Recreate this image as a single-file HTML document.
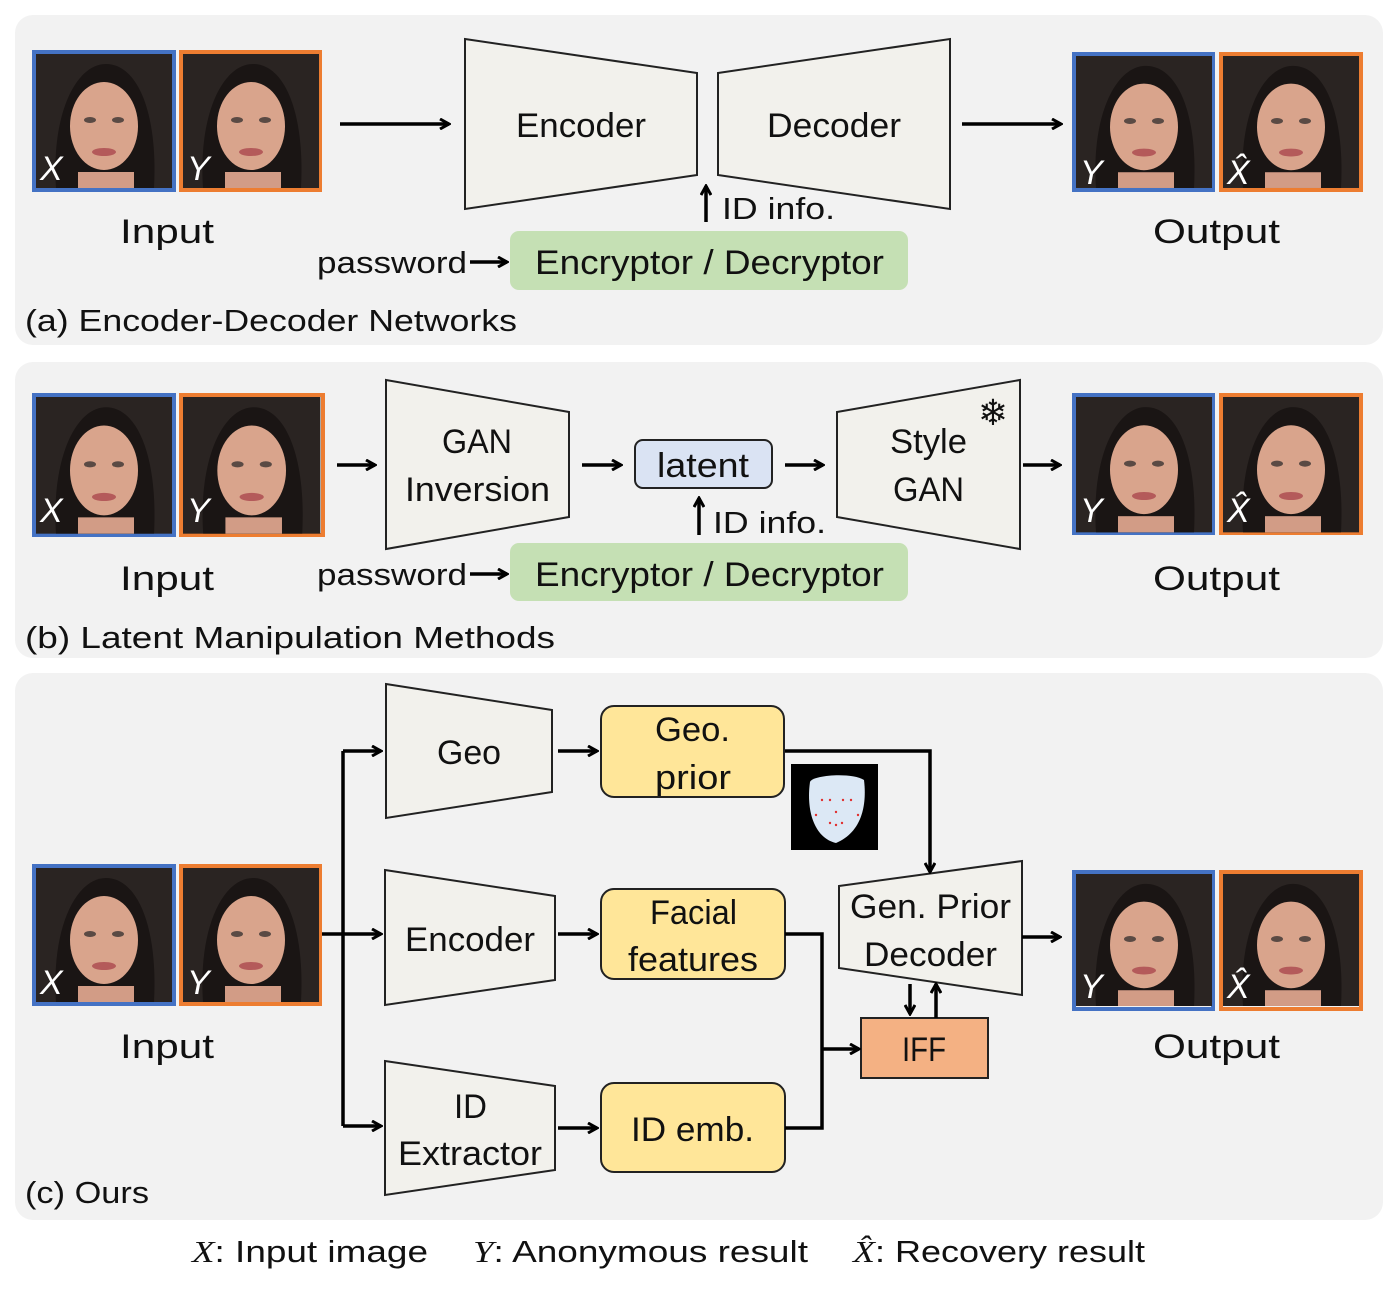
<!DOCTYPE html>
<html><head><meta charset="utf-8"><style>
html,body{margin:0;padding:0;background:#fff}
svg{display:block}
text{font-family:"Liberation Sans","DejaVu Sans",sans-serif;fill:#111}
</style></head><body>
<svg width="1399" height="1290" viewBox="0 0 1399 1290" xmlns="http://www.w3.org/2000/svg">
<defs>
<marker id="ah" markerWidth="12" markerHeight="12" refX="10" refY="6" orient="auto" markerUnits="userSpaceOnUse">
<path d="M1,1 L10,6 L1,11" fill="none" stroke="#000" stroke-width="3"/>
</marker>
<g id="face">
<rect x="0" y="0" width="136" height="134" fill="#2a2422"/>
<path d="M20,134 C15,60 40,10 70,10 C102,10 122,60 118,134 Z" fill="#1a1514"/>
<ellipse cx="68" cy="72" rx="34" ry="44" fill="#d9a48c"/>
<rect x="42" y="118" width="56" height="16" fill="#d29c86"/>
<ellipse cx="54" cy="66" rx="6" ry="3" fill="#5a4a44"/>
<ellipse cx="82" cy="66" rx="6" ry="3" fill="#5a4a44"/>
<ellipse cx="68" cy="98" rx="12" ry="4" fill="#b45a5a"/>
</g>
</defs>
<g fill="#f2f2f2">
<rect x="15" y="15" width="1368" height="330" rx="18"/>
<rect x="15" y="362" width="1368" height="296" rx="18"/>
<rect x="15" y="673" width="1368" height="547" rx="18"/>
</g>
<g stroke-width="4" fill="none">
<rect x="34" y="52" width="140" height="138" stroke="#4472c4"/>
<rect x="181" y="52" width="139" height="138" stroke="#ed7d31"/>
<rect x="1074" y="54" width="139" height="136" stroke="#4472c4"/>
<rect x="1221" y="54" width="140" height="136" stroke="#ed7d31"/>
<rect x="34" y="395" width="140" height="140" stroke="#4472c4"/>
<rect x="181" y="395" width="142" height="140" stroke="#ed7d31"/>
<rect x="1074" y="395" width="139" height="138" stroke="#4472c4"/>
<rect x="1221" y="395" width="140" height="138" stroke="#ed7d31"/>
<rect x="34" y="866" width="140" height="138" stroke="#4472c4"/>
<rect x="181" y="866" width="139" height="138" stroke="#ed7d31"/>
<rect x="1074" y="872" width="139" height="137" stroke="#4472c4"/>
<rect x="1221" y="872" width="140" height="137" stroke="#ed7d31"/>
</g>
<g>
<use href="#face" transform="translate(36,54)"/>
<use href="#face" transform="translate(183,54)"/>
<use href="#face" transform="translate(1076,56) scale(1,0.985)"/>
<use href="#face" transform="translate(1223,56) scale(1,0.985)"/>
<use href="#face" transform="translate(36,397) scale(1,1.02)"/>
<use href="#face" transform="translate(183,397) scale(1.01,1.02)"/>
<use href="#face" transform="translate(1076,397) scale(1,1.01)"/>
<use href="#face" transform="translate(1223,397) scale(1,1.01)"/>
<use href="#face" transform="translate(36,868)"/>
<use href="#face" transform="translate(183,868)"/>
<use href="#face" transform="translate(1076,874) scale(1,0.985)"/>
<use href="#face" transform="translate(1223,874) scale(1,0.985)"/>
</g>
<g font-family="Liberation Serif,serif" font-style="italic" font-size="34">
<text x="40" y="180" style="fill:#fff">X</text><text x="187" y="180" style="fill:#fff">Y</text>
<text x="1080" y="184" style="fill:#fff">Y</text><text x="1227" y="184" style="fill:#fff">X̂</text>
<text x="40" y="522" style="fill:#fff">X</text><text x="187" y="522" style="fill:#fff">Y</text>
<text x="1080" y="522" style="fill:#fff">Y</text><text x="1227" y="522" style="fill:#fff">X̂</text>
<text x="40" y="994" style="fill:#fff">X</text><text x="187" y="994" style="fill:#fff">Y</text>
<text x="1080" y="998" style="fill:#fff">Y</text><text x="1227" y="998" style="fill:#fff">X̂</text>
</g>
<g fill="#f2f1ec" stroke="#222" stroke-width="2">
<polygon points="465,39 697,73 697,175 465,209"/>
<polygon points="718,73 950,39 950,209 718,175"/>
<polygon points="386,380 569,412 569,517 386,549"/>
<polygon points="837,412 1020,380 1020,549 837,517"/>
<polygon points="386,684 552,710 552,792 386,818"/>
<polygon points="385,870 555,896 555,980 385,1005"/>
<polygon points="385,1061 555,1086 555,1170 385,1195"/>
<polygon points="839,886 1022,861 1022,995 839,968"/>
</g>
<rect x="510" y="231" width="398" height="59" rx="9" fill="#c5e0b4"/>
<rect x="510" y="543" width="398" height="58" rx="9" fill="#c5e0b4"/>
<rect x="635" y="440" width="137" height="48" rx="8" fill="#dae3f3" stroke="#222" stroke-width="2"/>
<g fill="#ffe699" stroke="#222" stroke-width="2">
<rect x="601" y="706" width="183" height="91" rx="13"/>
<rect x="601" y="889" width="184" height="90" rx="13"/>
<rect x="601" y="1083" width="184" height="89" rx="13"/>
</g>
<rect x="861" y="1018" width="127" height="60" fill="#f4b183" stroke="#222" stroke-width="2"/>
<rect x="791" y="764" width="87" height="86" fill="#000"/>
<path d="M810,782 C812,775 852,772 864,780 C867,805 862,832 836,843 C814,838 806,810 810,782Z" fill="#dce8f5"/>
<g fill="#e03030"><circle cx="822" cy="800" r="1.2"/><circle cx="830" cy="800" r="1.2"/><circle cx="843" cy="800" r="1.2"/><circle cx="851" cy="800" r="1.2"/><circle cx="830" cy="823" r="1.2"/><circle cx="836" cy="825" r="1.2"/><circle cx="842" cy="823" r="1.2"/><circle cx="836" cy="812" r="1.2"/><circle cx="816" cy="815" r="1.2"/><circle cx="858" cy="815" r="1.2"/></g>
<text x="993" y="425" font-size="36" text-anchor="middle" font-family="DejaVu Sans,sans-serif">❄</text>
<g stroke="#000" stroke-width="3.5" fill="none" marker-end="url(#ah)">
<line x1="340" y1="124" x2="449" y2="124"/>
<line x1="962" y1="124" x2="1061" y2="124"/>
<line x1="706" y1="222" x2="706" y2="186"/>
<line x1="470" y1="262" x2="507" y2="262"/>
<line x1="337" y1="465" x2="375" y2="465"/>
<line x1="582" y1="465" x2="621" y2="465"/>
<line x1="785" y1="465" x2="823" y2="465"/>
<line x1="1023" y1="465" x2="1060" y2="465"/>
<line x1="699" y1="535" x2="699" y2="498"/>
<line x1="470" y1="574" x2="507" y2="574"/>
<line x1="343" y1="751" x2="381" y2="751"/>
<line x1="322" y1="934" x2="381" y2="934"/>
<line x1="343" y1="1126" x2="381" y2="1126"/>
<line x1="558" y1="751" x2="597" y2="751"/>
<line x1="558" y1="934" x2="597" y2="934"/>
<line x1="558" y1="1128" x2="597" y2="1128"/>
<polyline points="785,751 930,751 930,872"/>
<line x1="822" y1="1049" x2="859" y2="1049"/>
<line x1="910" y1="984" x2="910" y2="1014"/>
<line x1="936" y1="1018" x2="936" y2="984"/>
<line x1="1022" y1="937" x2="1060" y2="937"/>
</g>
<g stroke="#000" stroke-width="3.5" fill="none">
<line x1="343" y1="751" x2="343" y2="1126"/>
<polyline points="785,934 822,934 822,1049"/>
<polyline points="785,1128 822,1128 822,1049"/>
</g>
<g font-size="34" lengthAdjust="spacingAndGlyphs">
<text x="516" y="137" textLength="130" lengthAdjust="spacingAndGlyphs">Encoder</text>
<text x="767" y="137" textLength="134" lengthAdjust="spacingAndGlyphs">Decoder</text>
<text x="120" y="243" textLength="94" lengthAdjust="spacingAndGlyphs">Input</text>
<text x="1153" y="243" textLength="127" lengthAdjust="spacingAndGlyphs">Output</text>
<text x="535" y="274" textLength="349" lengthAdjust="spacingAndGlyphs">Encryptor / Decryptor</text>
<text x="442" y="453" textLength="70" lengthAdjust="spacingAndGlyphs">GAN</text>
<text x="405" y="501" textLength="145" lengthAdjust="spacingAndGlyphs">Inversion</text>
<text x="657" y="477" textLength="92" lengthAdjust="spacingAndGlyphs">latent</text>
<text x="890" y="453" textLength="77" lengthAdjust="spacingAndGlyphs">Style</text>
<text x="893" y="501" textLength="71" lengthAdjust="spacingAndGlyphs">GAN</text>
<text x="120" y="590" textLength="94" lengthAdjust="spacingAndGlyphs">Input</text>
<text x="1153" y="590" textLength="127" lengthAdjust="spacingAndGlyphs">Output</text>
<text x="535" y="586" textLength="349" lengthAdjust="spacingAndGlyphs">Encryptor / Decryptor</text>
<text x="437" y="764" textLength="64" lengthAdjust="spacingAndGlyphs">Geo</text>
<text x="655" y="741" textLength="75" lengthAdjust="spacingAndGlyphs">Geo.</text>
<text x="655" y="789" textLength="76" lengthAdjust="spacingAndGlyphs">prior</text>
<text x="405" y="951" textLength="130" lengthAdjust="spacingAndGlyphs">Encoder</text>
<text x="650" y="924" textLength="87" lengthAdjust="spacingAndGlyphs">Facial</text>
<text x="628" y="971" textLength="130" lengthAdjust="spacingAndGlyphs">features</text>
<text x="454" y="1118" textLength="33" lengthAdjust="spacingAndGlyphs">ID</text>
<text x="398" y="1165" textLength="144" lengthAdjust="spacingAndGlyphs">Extractor</text>
<text x="631" y="1141" textLength="123" lengthAdjust="spacingAndGlyphs">ID emb.</text>
<text x="850" y="918" textLength="161" lengthAdjust="spacingAndGlyphs">Gen. Prior</text>
<text x="864" y="966" textLength="133" lengthAdjust="spacingAndGlyphs">Decoder</text>
<text x="902" y="1061" textLength="44" lengthAdjust="spacingAndGlyphs">IFF</text>
<text x="120" y="1058" textLength="94" lengthAdjust="spacingAndGlyphs">Input</text>
<text x="1153" y="1058" textLength="127" lengthAdjust="spacingAndGlyphs">Output</text>
</g>
<g font-size="31">
<text x="722" y="219" textLength="113" lengthAdjust="spacingAndGlyphs">ID info.</text>
<text x="713" y="533" textLength="113" lengthAdjust="spacingAndGlyphs">ID info.</text>
<text x="317" y="273" textLength="150" lengthAdjust="spacingAndGlyphs">password</text>
<text x="317" y="585" textLength="150" lengthAdjust="spacingAndGlyphs">password</text>
<text x="25" y="331" textLength="492" lengthAdjust="spacingAndGlyphs">(a) Encoder-Decoder Networks</text>
<text x="25" y="648" textLength="530" lengthAdjust="spacingAndGlyphs">(b) Latent Manipulation Methods</text>
<text x="25" y="1203" textLength="124" lengthAdjust="spacingAndGlyphs">(c) Ours</text>
<text x="192" y="1262" textLength="236" lengthAdjust="spacingAndGlyphs"><tspan font-family="Liberation Serif,serif" font-style="italic">X</tspan>: Input image</text>
<text x="473" y="1262" textLength="335" lengthAdjust="spacingAndGlyphs"><tspan font-family="Liberation Serif,serif" font-style="italic">Y</tspan>: Anonymous result</text>
<text x="853" y="1262" textLength="292" lengthAdjust="spacingAndGlyphs"><tspan font-family="Liberation Serif,serif" font-style="italic">X̂</tspan>: Recovery result</text>
</g>
</svg>
</body></html>
